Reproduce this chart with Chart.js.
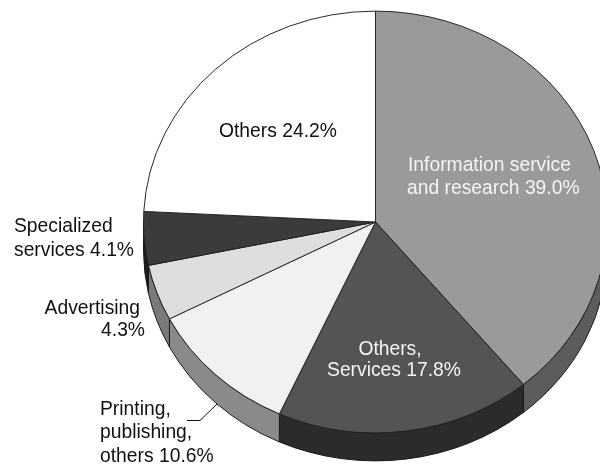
<!DOCTYPE html>
<html><head><meta charset="utf-8">
<script src="https://cdn.jsdelivr.net/npm/chart.js@4.4.0/dist/chart.umd.min.js"></script>
<style>
html,body{margin:0;padding:0;width:600px;height:465px;overflow:hidden;background:#fff}
#wrap{position:absolute;left:0;top:0;width:620px;height:500px}
</style>
</head><body>
<div id="wrap"><canvas id="c" width="620" height="500" style="width:620px;height:500px"></canvas></div>
<script>
// ---- data ----
const categories = ['Information service and research', 'Others, Services', 'Printing, publishing, others', 'Advertising', 'Specialized services', 'Others'];
const values = [39.0, 17.8, 10.6, 4.3, 4.1, 24.2];
const labelNameLines = [
  ['Information service', 'and research'],
  ['Others,', 'Services'],
  ['Printing,', 'publishing,', 'others'],
  ['Advertising', ''],
  ['Specialized', 'services'],
  ['Others']
];
const topColors = ['#9a9a9a', '#545454', '#f1f1f1', '#dedede', '#3b3b3b', '#ffffff'];
const sideColors = ['#5c5c5c', '#2b2b2b', '#8a8a8a', '#7a7a7a', '#1c1c1c', '#bbbbbb'];

// ---- layout (not data) ----
const SQUASH = 0.909, CENTER_Y = 222, DEPTH = 28;
const FONT = '19.3px "Liberation Sans", Arial, Helvetica, sans-serif';
const labelLayout = [
  {x: [408, 407], y: [171, 194], align: 'left', color: '#f4f4f4'},
  {x: [390, 394], y: [355, 376], align: 'center', color: '#f4f4f4'},
  {x: [100, 100, 100], y: [415, 438, 462], align: 'left', color: '#111'},
  {x: [140, 145], y: [314, 336], align: 'right', color: '#111'},
  {x: [14, 14], y: [232, 256], align: 'left', color: '#111'},
  {x: [219], y: [137], align: 'left', color: '#111'}
];

function labelText(i) {
  const lines = labelNameLines[i].slice();
  const v = values[i].toFixed(1) + '%';
  const last = lines.length - 1;
  lines[last] = lines[last] ? lines[last] + ' ' + v : v;
  return lines;
}

const pie3d = {
  id: 'pie3d',
  beforeDatasetsDraw(chart) {
    const ctx = chart.ctx;
    const arcs = chart.getDatasetMeta(0).data;
    const cx = arcs[0].x, cy = arcs[0].y, R = arcs[0].outerRadius;
    ctx.save();
    ctx.lineWidth = 1;
    ctx.strokeStyle = '#1a1a1a';
    arcs.forEach((arc, i) => {
      const s = Math.max(arc.startAngle, 0), e = Math.min(arc.endAngle, Math.PI);
      if (e <= s) return;
      ctx.beginPath();
      ctx.ellipse(cx, CENTER_Y, R, R * SQUASH, 0, s, e, false);
      ctx.ellipse(cx, CENTER_Y + DEPTH, R, R * SQUASH, 0, e, s, true);
      ctx.closePath();
      ctx.fillStyle = sideColors[i];
      ctx.fill();
      ctx.stroke();
    });
    ctx.restore();
    ctx.save();
    ctx.translate(0, CENTER_Y);
    ctx.scale(1, SQUASH);
    ctx.translate(0, -cy);
  },
  afterDatasetsDraw(chart) {
    const ctx = chart.ctx;
    ctx.restore();
    ctx.save();
    ctx.font = FONT;
    ctx.textBaseline = 'alphabetic';
    values.forEach((v, i) => {
      const L = labelLayout[i];
      const lines = labelText(i);
      ctx.fillStyle = L.color;
      ctx.textAlign = L.align;
      lines.forEach((t, k) => ctx.fillText(t, L.x[k], L.y[k]));
    });
    // leader line for Printing label
    ctx.strokeStyle = '#111';
    ctx.lineWidth = 1;
    ctx.beginPath();
    ctx.moveTo(187, 420.5);
    ctx.lineTo(200, 420.5);
    ctx.lineTo(217, 404);
    ctx.stroke();
    ctx.restore();
  }
};

new Chart(document.getElementById('c'), {
  type: 'pie',
  data: {
    labels: categories,
    datasets: [{
      data: values,
      backgroundColor: topColors,
      borderColor: '#1f1f1f',
      borderWidth: 1
    }]
  },
  options: {
    responsive: false,
    animation: false,
    events: [],
    rotation: 0,
    layout: {padding: {left: 143, right: 12, top: 10, bottom: 25}},
    plugins: {legend: {display: false}, tooltip: {enabled: false}}
  },
  plugins: [pie3d]
});
</script>
</body></html>
